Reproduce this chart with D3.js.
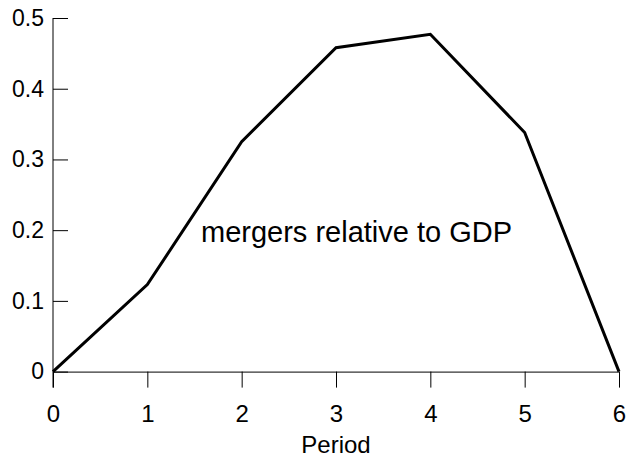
<!DOCTYPE html>
<html>
<head>
    <style>
        body { margin: 0; background: #fff; }
        text { font-family: "Liberation Sans", Arial, sans-serif; fill: #000; }
        .axis path, .axis line { stroke: #000; stroke-width: 1; }
    </style>
</head>
<body>
    <svg id="chart" width="628" height="459"></svg>
    <script src="https://d3js.org/d3.v7.min.js"></script>
    <script>
        // values
        const periods = [0, 1, 2, 3, 4, 5, 6];
        const mergers = [0, 0.123, 0.325, 0.458, 0.477, 0.338, 0];
        const xTicks = [0, 1, 2, 3, 4, 5, 6];
        const yTicks = [0, 0.1, 0.2, 0.3, 0.4, 0.5];

        const svg = d3.select('#chart');
        const x = d3.scaleLinear().domain([0, 6]).range([53, 619]);
        const y = d3.scaleLinear().domain([0, 0.5]).range([371.6, 18]);

        // x axis, ticks pointing out
        const xAxis = svg.append('g')
            .attr('class', 'axis')
            .attr('transform', `translate(0,${y(0)})`)
            .call(d3.axisBottom(x).tickValues(xTicks).tickFormat(d3.format('d'))
                .tickSize(16).tickSizeOuter(0));
        xAxis.selectAll('text')
            .attr('font-size', 24)
            .attr('y', 50)
            .attr('dy', null);

        // y axis, ticks pointing in
        const yAxis = svg.append('g')
            .attr('class', 'axis')
            .attr('transform', `translate(${x(0)},0)`)
            .call(d3.axisLeft(y).tickValues(yTicks).tickFormat(d => d === 0 ? '0' : d3.format('.1f')(d))
                .tickSizeInner(-15).tickSizeOuter(0));
        yAxis.selectAll('text').attr('font-size', 23).attr('x', -9);
        yAxis.select('.domain').attr('d', `M0,${y(0) + 16}V${y(0.5)}`);
        svg.selectAll('.axis .domain').attr('fill', 'none');

        const line = d3.line()
            .x((d, i) => x(periods[i]))
            .y(d => y(d));

        svg.append('path')
            .datum(mergers)
            .attr('fill', 'none')
            .attr('stroke', '#000')
            .attr('stroke-width', 3)
            .attr('stroke-linejoin', 'miter')
            .attr('d', line);

        svg.append('text')
            .attr('x', 201)
            .attr('y', 242)
            .attr('font-size', 29)
            .text('mergers relative to GDP');

        svg.append('text')
            .attr('x', x(3))
            .attr('y', 452.7)
            .attr('text-anchor', 'middle')
            .attr('font-size', 24)
            .text('Period');
    </script>
</body>
</html>
